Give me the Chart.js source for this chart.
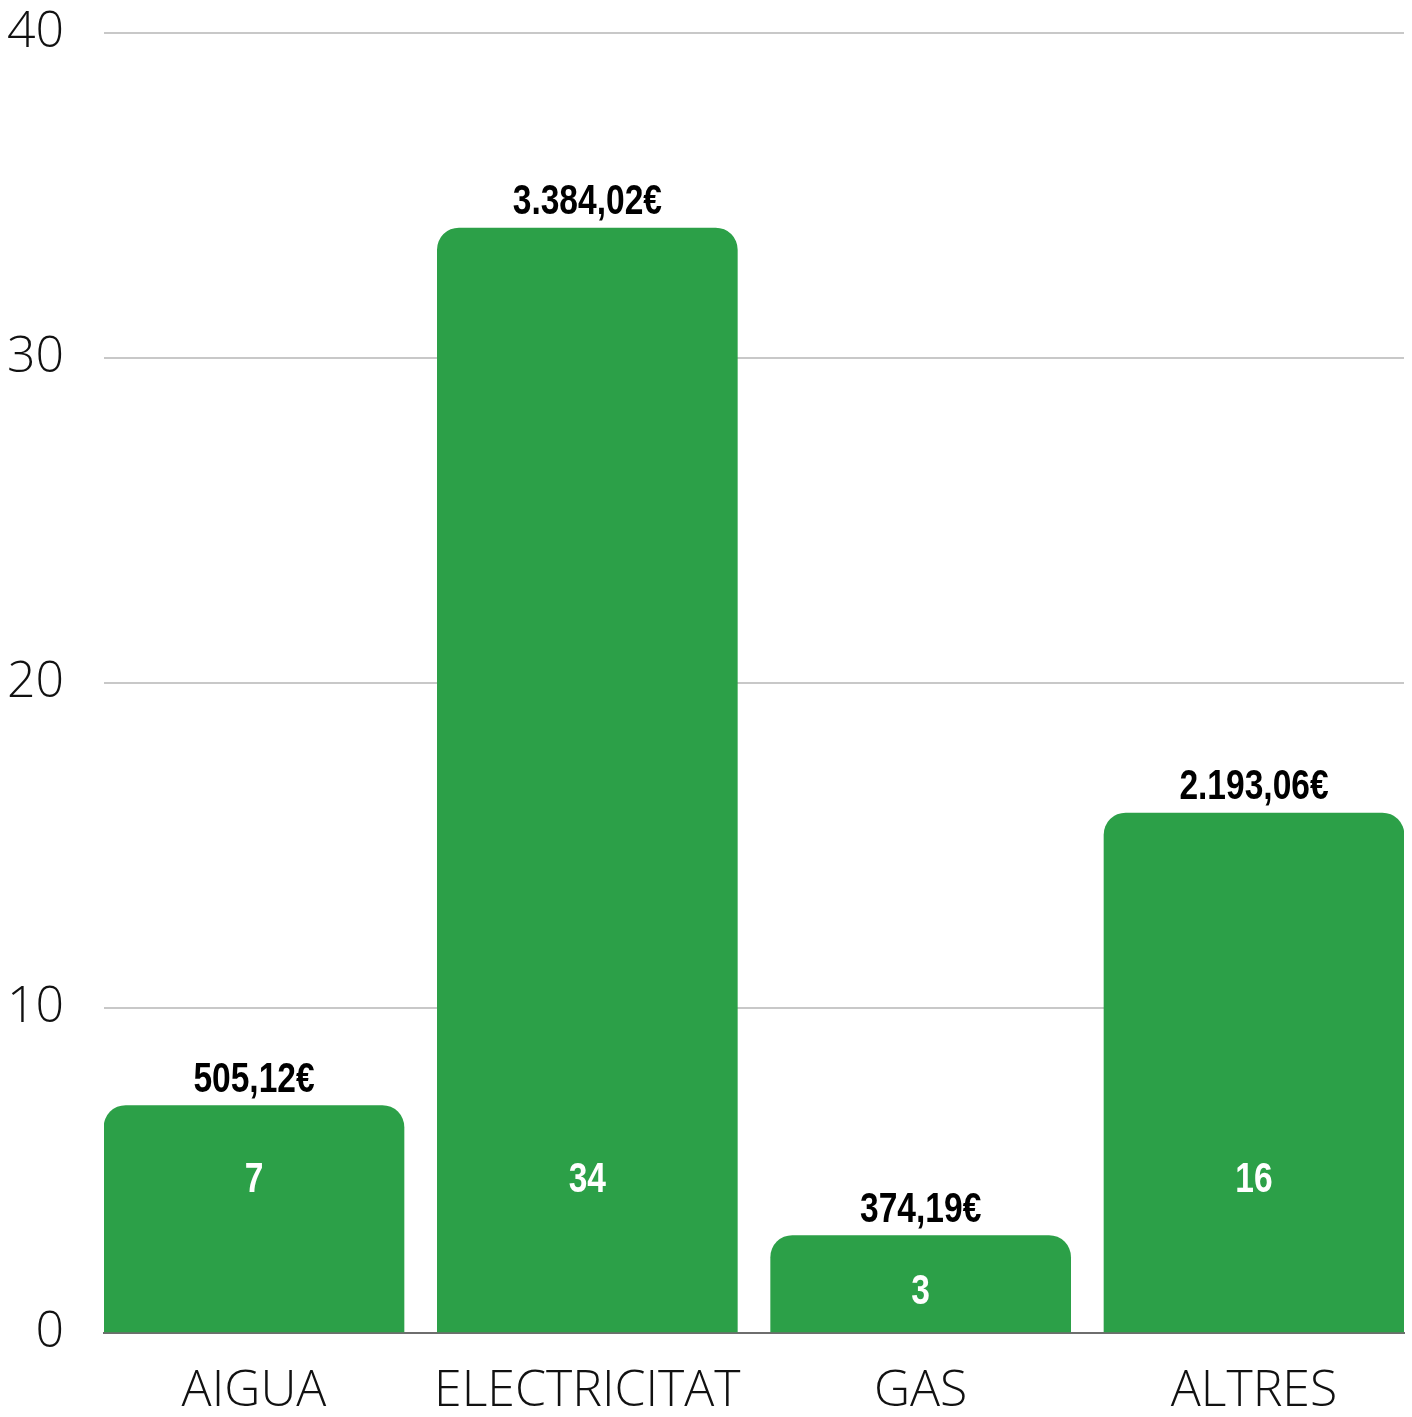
<!DOCTYPE html>
<html>
<head>
<meta charset="utf-8">
<script src="https://cdn.jsdelivr.net/npm/chart.js@4"></script>
<style>
  html, body { margin: 0; padding: 0; background: #fff; }
  #wrap { width: 1412px; height: 1417px; }
</style>
</head>
<body>
<div id="wrap"><canvas id="chart" width="1412" height="1417"></canvas></div>
<script>
// ── Data ─────────────────────────────────────────────
const categories = ['AIGUA', 'ELECTRICITAT', 'GAS', 'ALTRES'];
const counts     = [7, 34, 3, 16];
const amounts    = ['505,12€', '3.384,02€', '374,19€', '2.193,06€'];
const yTicks     = [0, 10, 20, 30, 40];

const GREEN = '#2ca048';
const LABEL_FONT = "bold 43px 'Liberation Sans', Arial, sans-serif";
const SQUEEZE = 0.78; // narrow the bold face so it reads like a condensed one

function condensedText(ctx, text, x, y) {
  ctx.save();
  ctx.translate(x, y);
  ctx.scale(SQUEEZE, 1);
  ctx.fillText(text, 0, 0);
  ctx.restore();
}

// labels drawn above (amount) and inside (count) each bar
const barLabels = {
  id: 'bar-labels',
  afterDatasetsDraw(chart) {
    const { ctx, scales: { y } } = chart;
    const meta = chart.getDatasetMeta(0);
    ctx.save();
    ctx.textAlign = 'center';
    ctx.font = LABEL_FONT;
    meta.data.forEach((bar, i) => {
      ctx.fillStyle = '#000';
      ctx.textBaseline = 'alphabetic';
      condensedText(ctx, amounts[i], bar.x, bar.y - 14);
      ctx.fillStyle = '#fff';
      ctx.textBaseline = 'middle';
      const at = counts[i] < 5 ? counts[i] * 0.42 : 4.7;
      condensedText(ctx, String(counts[i]), bar.x, y.getPixelForValue(at));
    });
    ctx.restore();
  }
};

new Chart(document.getElementById('chart'), {
  type: 'bar',
  data: {
    datasets: [{
      data: counts.map((v, i) => ({ x: i, y: v })),
      backgroundColor: GREEN,
      borderWidth: 0,
      borderRadius: { topLeft: 22, topRight: 22, bottomLeft: 0, bottomRight: 0 },
      borderSkipped: false,
      barThickness: 300,
    }]
  },
  options: {
    responsive: false,
    animation: false,
    layout: { padding: { top: 33, right: 8, left: 0, bottom: 0 } },
    plugins: { legend: { display: false }, tooltip: { enabled: false } },
    scales: {
      x: {
        type: 'linear',
        offset: false,
        min: -0.45,
        max: 3.45,
        grid: { display: false, drawTicks: false, offset: false },
        border: { display: true, color: '#6e6e6e', width: 2 },
        afterBuildTicks: axis => { axis.ticks = categories.map((_, i) => ({ value: i })); },
        afterFit: axis => { axis.height = 84; axis.paddingLeft = 0; axis.paddingRight = 0; },
        ticks: {
          color: '#111',
          padding: 29,
          font: { family: "'Open Sans', sans-serif", size: 50, weight: 300 },
          callback: v => categories[v] ?? '',
          maxRotation: 0,
          autoSkip: false,
        }
      },
      y: {
        min: 0,
        max: 40,
        grid: { color: '#c8c8c8', lineWidth: 2, drawTicks: false },
        border: { display: false },
        afterBuildTicks: axis => { axis.ticks = yTicks.map(v => ({ value: v })); },
        afterFit: axis => { axis.width = 104; axis.paddingTop = 0; axis.paddingBottom = 0; },
        ticks: {
          color: '#111',
          padding: 40,
          font: { family: "'Open Sans', sans-serif", size: 50, weight: 300 },
        }
      }
    }
  },
  plugins: [barLabels]
});
</script>
</body>
</html>
